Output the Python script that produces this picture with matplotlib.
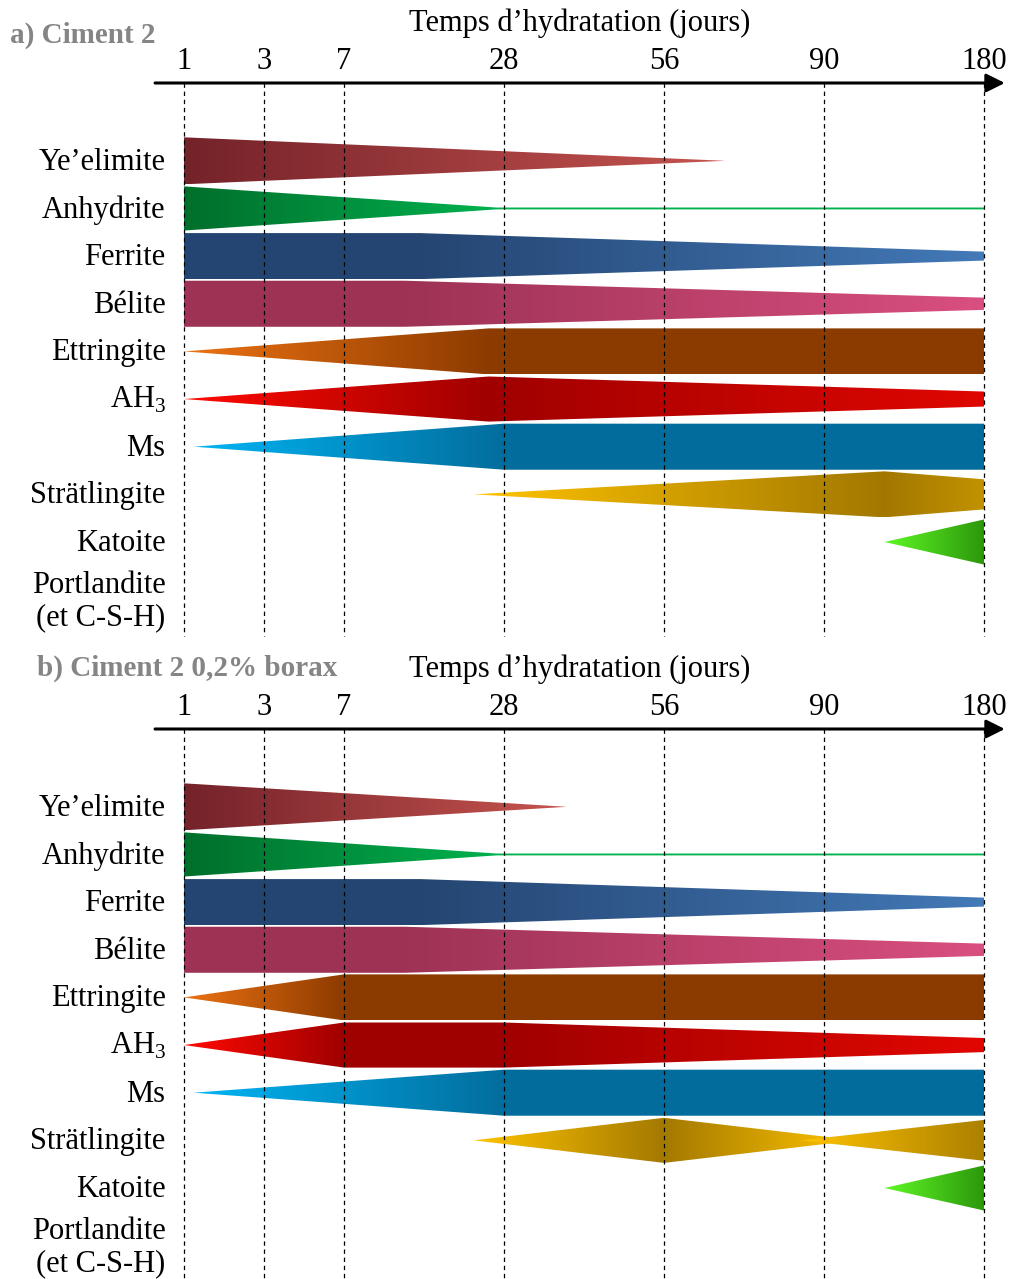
import numpy as np
import matplotlib
matplotlib.use('Agg')
import matplotlib.pyplot as plt
from matplotlib.patches import Polygon
from matplotlib.colors import to_rgb

plt.rcParams['font.family'] = ['Liberation Serif', 'DejaVu Serif']
plt.rcParams['mathtext.fontset'] = 'custom'
plt.rcParams['mathtext.rm'] = 'Liberation Serif'

# time axis: non linear, each label sits on its own slot
tick_days = [1, 3, 7, 28, 56, 90, 180]
tick_pos = [0, 0.5, 1, 2, 3, 4, 5]

phases = ['Ye\u2019elimite', 'Anhydrite', 'Ferrite', 'B\u00e9lite', 'Ettringite',
          r'AH$_\mathregular{3}$', 'Ms', 'Str\u00e4tlingite', 'Katoite',
          'Portlandite\n(et C-S-H)']

# (light, dark) colour of each phase : light = little, dark = a lot
phase_colors = {
    0: ('#C6544F', '#74222A'),
    1: ('#00B450', '#006A2A'),
    2: ('#4A86C8', '#244470'),
    3: ('#EE5990', '#9C3254'),
    4: ('#EC7212', '#8B3A00'),
    5: ('#FF0A00', '#9C0000'),
    6: ('#00B4F4', '#036C9B'),
    7: ('#FFC400', '#A07600'),
    8: ('#60F826', '#2A940A'),
}

# --- a) Ciment 2 : days / relative amount ---
a_yeelimite_days = [1, 69]
a_yeelimite_amt = [1.0, 0.0]
a_anhydrite_days = [1, 27, 180]
a_anhydrite_amt = [0.94, 0.04, 0.04]
a_ferrite_days = [1, 17, 180]
a_ferrite_amt = [0.98, 0.98, 0.19]
a_belite_days = [1, 15, 180]
a_belite_amt = [0.98, 0.98, 0.26]
a_ettringite_days = [1, 26, 180]
a_ettringite_amt = [0.0, 0.98, 0.98]
a_ah3_days = [1, 26, 180]
a_ah3_amt = [0.0, 0.96, 0.32]
a_ms_days = [1.24, 28, 180]
a_ms_amt = [0.0, 0.98, 0.98]
a_strat_days = [24, 124, 180]
a_strat_amt = [0.0, 0.98, 0.64]
a_katoite_days = [124, 180]
a_katoite_amt = [0.0, 0.96]

# --- b) Ciment 2 0,2% borax ---
b_yeelimite_days = [1, 39]
b_yeelimite_amt = [1.0, 0.0]
b_anhydrite_days = [1, 27, 180]
b_anhydrite_amt = [0.94, 0.04, 0.04]
b_ferrite_days = [1, 17, 180]
b_ferrite_amt = [0.98, 0.98, 0.19]
b_belite_days = [1, 15, 180]
b_belite_amt = [0.98, 0.98, 0.26]
b_ettringite_days = [1, 7, 180]
b_ettringite_amt = [0.0, 0.98, 0.98]
b_ah3_days = [1, 7, 28, 180]
b_ah3_amt = [0.0, 0.96, 0.96, 0.30]
b_ms_days = [1.24, 28, 180]
b_ms_amt = [0.0, 0.98, 0.98]
b_strat1_days = [24, 56, 108]
b_strat1_amt = [0.0, 0.96, 0.0]
b_strat2_days = [85, 180]
b_strat2_amt = [0.0, 0.87]
b_katoite_days = [124, 180]
b_katoite_amt = [0.0, 0.96]

panel_a = [(0, a_yeelimite_days, a_yeelimite_amt), (1, a_anhydrite_days, a_anhydrite_amt),
           (2, a_ferrite_days, a_ferrite_amt), (3, a_belite_days, a_belite_amt),
           (4, a_ettringite_days, a_ettringite_amt), (5, a_ah3_days, a_ah3_amt),
           (6, a_ms_days, a_ms_amt), (7, a_strat_days, a_strat_amt),
           (8, a_katoite_days, a_katoite_amt)]
panel_b = [(0, b_yeelimite_days, b_yeelimite_amt), (1, b_anhydrite_days, b_anhydrite_amt),
           (2, b_ferrite_days, b_ferrite_amt), (3, b_belite_days, b_belite_amt),
           (4, b_ettringite_days, b_ettringite_amt), (5, b_ah3_days, b_ah3_amt),
           (6, b_ms_days, b_ms_amt), (7, b_strat1_days, b_strat1_amt),
           (7, b_strat2_days, b_strat2_amt), (8, b_katoite_days, b_katoite_amt)]

HALF = 0.493   # half thickness of a full band, in rows
FS = 22


def draw_band(ax, row, days, amt, light, dark):
    x = np.interp(days, tick_days, tick_pos)
    a = np.asarray(amt, float)
    half = a * HALF
    verts = np.column_stack([np.r_[x, x[::-1]], np.r_[row - half, (row + half)[::-1]]])
    patch = Polygon(verts, closed=True, fc='none', ec='none')
    ax.add_patch(patch)
    gx = np.linspace(x[0], x[-1], 600)
    ga = np.interp(gx, x, a)
    c0, c1 = np.array(to_rgb(light)), np.array(to_rgb(dark))
    rgb = c0 + ga[:, None] * (c1 - c0)
    h = half.max()
    im = ax.imshow(rgb[None], extent=[x[0], x[-1], row + h, row - h], aspect='auto',
                   interpolation='bilinear', zorder=2)
    im.set_clip_path(patch)


def draw_panel(ax, title, title_xy, bands, ybottom, dash_end):
    for row, days, amt in bands:
        light, dark = phase_colors[row]
        draw_band(ax, row, days, amt, light, dark)

    ax.vlines(tick_pos, -1.633, dash_end, colors='black', lw=0.9,
              linestyles=(0, (3.5, 3)), zorder=3)
    ax.annotate('', xy=(5.13, -1.633), xytext=(-0.181, -1.633),
                arrowprops=dict(arrowstyle='-|>', lw=2.2, color='black',
                                mutation_scale=28, shrinkA=0, shrinkB=0), zorder=4)
    for p, d in zip(tick_pos, tick_days):
        ax.text(p, -2.09, str(d), ha='center', va='center', fontsize=FS)
    ax.text(2.475, -2.88, 'Temps d\u2019hydratation (jours)', ha='center', va='center', fontsize=FS)
    ax.text(title_xy[0], title_xy[1], title, ha='left', va='center', fontsize=21,
            fontweight='bold', color='#858585')

    for i, name in enumerate(phases):
        if '\n' in name:
            ax.text(-0.115, 9.25, name, ha='right', va='center', fontsize=FS,
                    linespacing=1.14, multialignment='right')
        else:
            ax.text(-0.115, i + 0.19, name, ha='right', va='baseline', fontsize=FS)

    ax.set_xlim(-1.15, 5.1875)
    ax.set_ylim(ybottom, -3.375)
    ax.axis('off')


fig = plt.figure(figsize=(10.14, 12.79), dpi=100)
ax_a = fig.add_axes([0, 639 / 1279, 1, 640 / 1279])
ax_b = fig.add_axes([0, 0, 1, 633 / 1279])

draw_panel(ax_a, 'a) Ciment 2', (-1.0875, -2.64), panel_a, 10.057, 9.97)
draw_panel(ax_b, 'b) Ciment 2 0,2% borax', (-0.919, -2.91), panel_b, 9.91, 9.91)

fig.savefig('out.png', dpi=100)
